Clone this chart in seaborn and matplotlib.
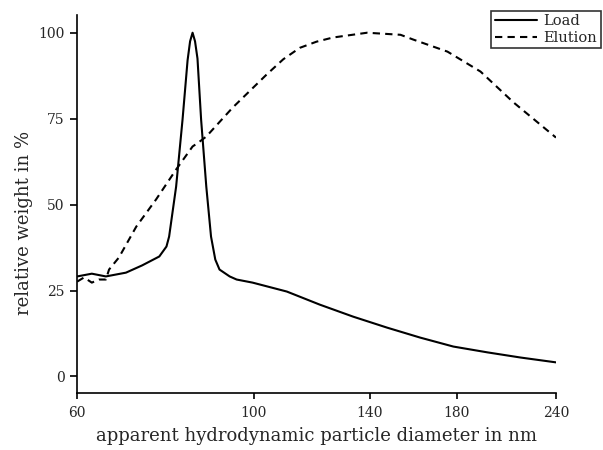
import numpy as np
import pandas as pd
import matplotlib
matplotlib.use("Agg")
import matplotlib.pyplot as plt
import seaborn as sns
from matplotlib.lines import Line2D

load_x = [60.0, 62.6, 65.2, 69.1, 72.4, 76.1, 77.7, 78.3, 79.9, 81.4, 82.6, 83.2,
          83.8, 84.4, 85.0, 85.9, 87.2, 88.4, 89.5, 90.6, 93.3, 95.2, 99.7, 110.1,
          121.1, 133.4, 147.2, 162.0, 178.3, 196.9, 216.7, 240.0]
load_y = [29.1, 29.9, 29.1, 30.2, 32.3, 34.9, 37.8, 40.7, 55.2, 74.7, 92.0, 97.5,
          100.0, 97.5, 92.5, 74.7, 55.2, 40.7, 34.0, 31.1, 29.1, 28.2, 27.3, 24.7,
          20.9, 17.4, 14.2, 11.3, 8.7, 7.0, 5.5, 4.1]

elu_x = [60.0, 61.2, 62.6, 63.9, 65.2, 65.8, 67.7, 69.7, 71.2, 75.4, 79.9, 83.8,
         85.5, 87.2, 94.1, 103.8, 109.0, 114.3, 120.0, 125.8, 138.9, 153.0, 158.8,
         175.3, 192.9, 212.3, 240.0]
elu_y = [27.6, 28.8, 27.3, 28.2, 28.2, 31.1, 34.6, 39.8, 43.6, 51.5, 60.2, 66.9,
         68.3, 69.8, 78.2, 87.8, 92.3, 95.6, 97.4, 98.6, 100.0, 99.4, 98.0,
         94.5, 88.7, 79.7, 69.5]

x_ticks = [60, 100, 140, 180, 240]
y_ticks = [0, 25, 50, 75, 100]

df = pd.concat([
    pd.DataFrame({"d": load_x, "w": load_y, "series": "Load"}),
    pd.DataFrame({"d": elu_x, "w": elu_y, "series": "Elution"}),
])

sns.set_style("white")
plt.rcParams["font.family"] = ["DejaVu Serif"]

fig = plt.figure(figsize=(6.03, 4.50), dpi=100)
ax = fig.add_axes([0.128, 0.126, 0.794, 0.841])

sns.lineplot(data=df, x="d", y="w", style="series", color="black",
             dashes={"Load": "", "Elution": (3.5, 2.5)}, linewidth=1.5,
             sort=False, ax=ax, legend=False)

ax.set_xscale("log")
ax.set_xlim(60, 240)
ax.set_ylim(-4.9, 105.2)
ax.set_xticks(x_ticks)
ax.set_xticklabels([str(t) for t in x_ticks])
ax.xaxis.set_minor_locator(matplotlib.ticker.NullLocator())
ax.set_yticks(y_ticks)
ax.set_yticklabels([str(t) for t in y_ticks])

for s in ["top", "right"]:
    ax.spines[s].set_visible(False)
for s in ["left", "bottom"]:
    ax.spines[s].set_color("black")
    ax.spines[s].set_linewidth(1.2)

ax.tick_params(axis="y", direction="out", length=5, width=1.2, color="black",
               labelsize=10, pad=4, left=True)
ax.tick_params(axis="x", direction="out", length=4.5, width=1.2, color="black",
               labelsize=10, pad=5, bottom=True)

ax.set_xlabel("apparent hydrodynamic particle diameter in nm", fontsize=13, labelpad=5)
ax.set_ylabel("relative weight in %", fontsize=13)
ax.yaxis.set_label_coords(-0.093, 0.45)

handles = [Line2D([], [], color="black", lw=1.5),
           Line2D([], [], color="black", lw=1.5, dashes=(3.5, 2.5))]
leg = fig.legend(handles, ["Load", "Elution"], loc="upper right",
                 bbox_to_anchor=(0.996, 0.976), fontsize=10.5, frameon=True,
                 fancybox=False, edgecolor="black", handlelength=2.9,
                 borderpad=0.25, labelspacing=0.15, handletextpad=0.4,
                 borderaxespad=0)
leg.get_frame().set_linewidth(1.2)

fig.savefig("out.png", dpi=100)
